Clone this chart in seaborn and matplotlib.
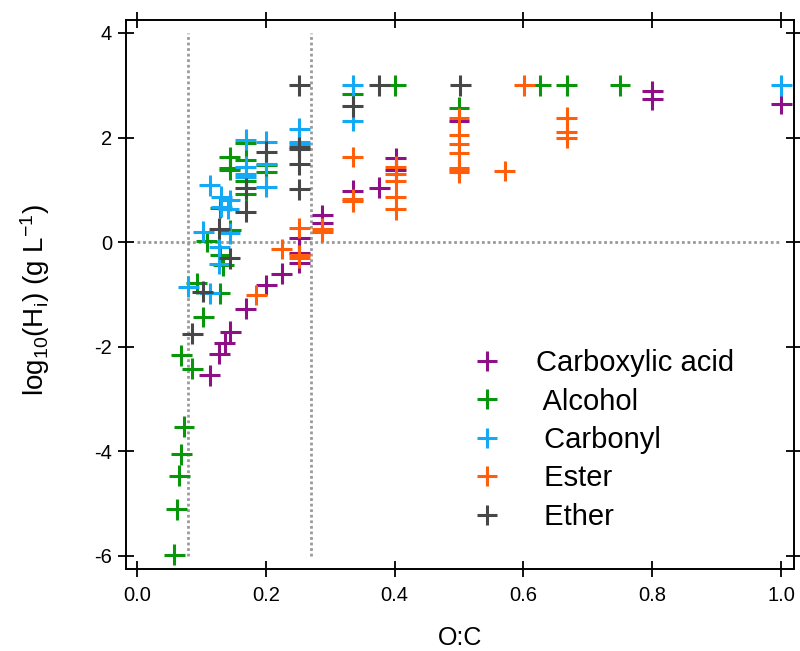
import matplotlib
matplotlib.use("Agg")
import matplotlib.pyplot as plt
import pandas as pd
import seaborn as sns
from matplotlib.lines import Line2D

sns.set_style("ticks")
plt.rcParams["font.family"] = ["Liberation Sans", "DejaVu Sans"]
plt.rcParams["mathtext.default"] = "regular"
plt.rcParams["axes.unicode_minus"] = False
for key in ["text.color", "axes.labelcolor", "xtick.color", "ytick.color", "axes.edgecolor"]:
    plt.rcParams[key] = "black"

GROUPS = ["Carboxylic acid", "Alcohol", "Carbonyl", "Ester", "Ether"]
LEGEND_LABELS = ["Carboxylic acid", " Alcohol", " Carbonyl", " Ester", " Ether"]
COLORS = {
    "Carboxylic acid": "#8e0f86",
    "Alcohol": "#0a960a",
    "Carbonyl": "#14a9f5",
    "Ester": "#ff5f0a",
    "Ether": "#474747",
}

# O:C ratio and log10(H) per functional group
acid_oc = [0.113, 0.128, 0.136, 0.145, 0.169, 0.201, 0.225, 0.252, 0.252, 0.252,
           0.288, 0.288, 0.335, 0.376, 0.402, 0.402, 0.50, 0.80, 0.80, 1.00]
acid_h = [-2.55, -2.14, -1.93, -1.71, -1.27, -0.82, -0.60, 0.07, -0.21, -0.40,
          0.52, 0.37, 0.98, 1.04, 1.60, 1.38, 2.31, 2.89, 2.73, 2.65]

alcohol_oc = [0.058, 0.062, 0.066, 0.069, 0.073, 0.069, 0.086, 0.103, 0.093, 0.129,
              0.129, 0.134, 0.108, 0.145, 0.129, 0.169, 0.169, 0.169, 0.144, 0.144,
              0.144, 0.169, 0.201, 0.201, 0.335, 0.401, 0.50, 0.626, 0.667, 0.75]
alcohol_h = [-5.98, -5.11, -4.47, -4.06, -3.53, -2.16, -2.42, -1.43, -0.79, -0.98,
             -0.25, -0.44, 0.02, 0.23, 0.66, 0.93, 1.17, 1.57, 1.38, 1.42,
             1.63, 1.90, 1.47, 1.34, 2.84, 3.00, 2.57, 3.00, 3.00, 3.00]

carbonyl_oc = [0.080, 0.113, 0.128, 0.128, 0.103, 0.144, 0.131, 0.144, 0.131, 0.142,
               0.113, 0.169, 0.169, 0.169, 0.169, 0.201, 0.201, 0.201, 0.252, 0.252,
               0.252, 0.335, 0.335, 1.00]
carbonyl_h = [-0.85, -0.98, -0.41, -0.09, 0.20, 0.17, 0.87, 0.80, 0.68, 0.64,
              1.09, 1.96, 1.44, 1.25, 1.30, 1.92, 1.50, 1.06, 2.17, 1.92,
              1.88, 3.00, 2.32, 3.00]

ester_oc = [0.185, 0.225, 0.252, 0.252, 0.252, 0.288, 0.288, 0.335, 0.335, 0.335,
            0.402, 0.402, 0.402, 0.402, 0.402, 0.50, 0.50, 0.50, 0.50, 0.50,
            0.50, 0.50, 0.571, 0.601, 0.667, 0.667, 0.667]
ester_h = [-1.01, -0.13, 0.27, -0.25, -0.30, 0.26, 0.20, 1.63, 0.82, 0.78,
           1.44, 1.31, 1.17, 0.87, 0.63, 2.37, 2.05, 1.87, 1.70, 1.41,
           1.38, 1.34, 1.36, 3.00, 2.38, 2.10, 2.00]

ether_oc = [0.086, 0.102, 0.144, 0.128, 0.169, 0.169, 0.201, 0.252, 0.252, 0.252,
            0.252, 0.252, 0.335, 0.376, 0.502]
ether_h = [-1.75, -0.95, -0.31, 0.26, 0.58, 1.03, 1.73, 3.00, 1.82, 1.79,
           1.49, 1.01, 2.60, 3.00, 3.00]

VLINES = [0.08, 0.27]

frames = []
for name, oc, h in zip(GROUPS,
                       [acid_oc, alcohol_oc, carbonyl_oc, ester_oc, ether_oc],
                       [acid_h, alcohol_h, carbonyl_h, ester_h, ether_h]):
    frames.append(pd.DataFrame({"oc": oc, "logh": h, "group": name}))
df = pd.concat(frames, ignore_index=True)

fig = plt.figure(figsize=(8.0, 6.51), dpi=100)
ax = fig.add_axes([0.1575, 0.126, 0.835, 0.843])

for xv in VLINES:
    ax.plot([xv, xv], [-6, 4], ls=(0, (1, 1)), color="#9a9a9a", lw=2, zorder=1)
ax.plot([0, 1], [0, 0], ls=(0, (1, 1)), color="#9a9a9a", lw=2, zorder=1)

sns.scatterplot(data=df, x="oc", y="logh", hue="group", hue_order=GROUPS,
                palette=COLORS, marker="+", s=225, linewidth=2.2,
                legend=False, ax=ax, zorder=3)

ax.set_xlim(-0.017, 1.020)
ax.set_ylim(-6.25, 4.245)
ax.set_xticks([0.0, 0.2, 0.4, 0.6, 0.8, 1.0])
ax.set_xticklabels(["0.0", "0.2", "0.4", "0.6", "0.8", "1.0"])
ax.set_yticks([-6, -4, -2, 0, 2, 4])
ax.tick_params(direction="inout", length=12, width=1.3, top=True, right=True,
               labelsize=14.5)
ax.tick_params(axis="x", pad=6)
ax.tick_params(axis="y", pad=4)
for sp in ax.spines.values():
    sp.set_linewidth(1.4)

ax.set_xlabel("O:C", fontsize=18)
ax.xaxis.set_label_coords(0.5, -0.104)
ax.set_ylabel(r"log$_{10}$(H$_i$) (g L$^{-1}$)", fontsize=20)
ax.yaxis.set_label_coords(-0.111, 0.49)

handles = [Line2D([], [], marker="+", ls="", color=COLORS[g], markersize=15,
                  markeredgewidth=2.2) for g in GROUPS]
ax.legend(handles, LEGEND_LABELS, loc="upper left",
          bbox_to_anchor=(0.479, 0.4217), frameon=False, fontsize=21,
          handletextpad=0.68, labelspacing=0.356, borderaxespad=0)

fig.savefig("out.png", dpi=100)
